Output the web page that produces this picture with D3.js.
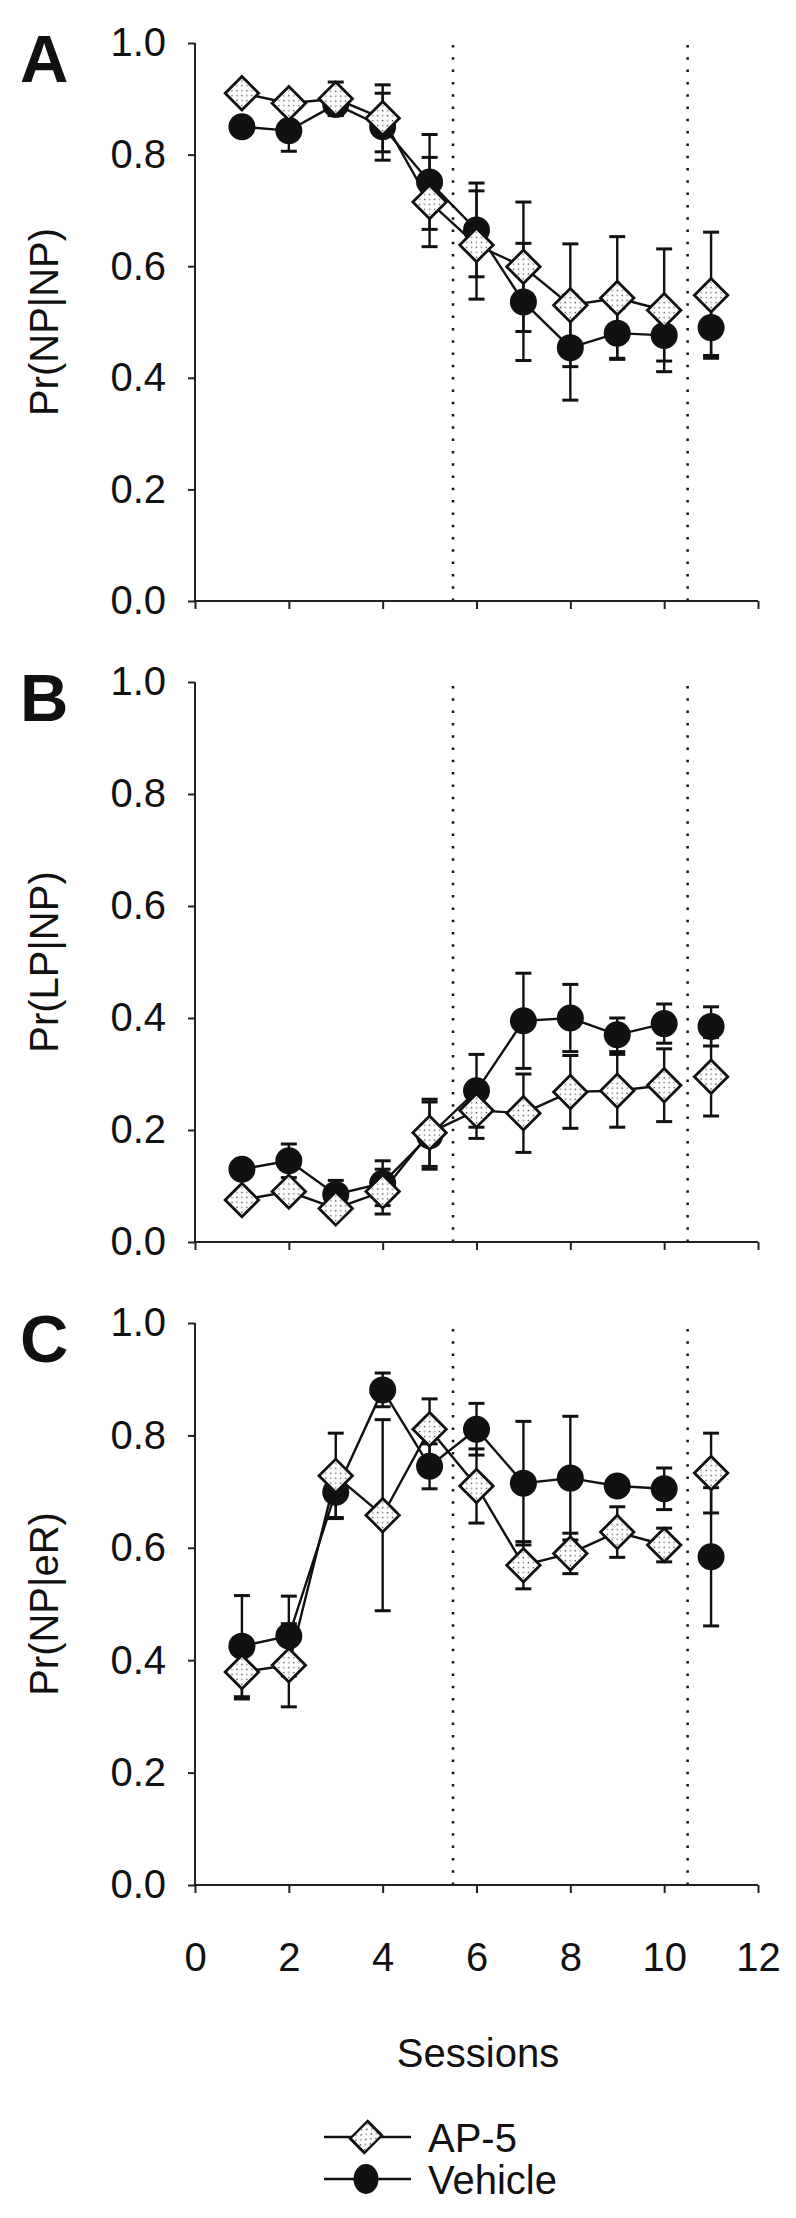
<!DOCTYPE html>
<html><head><meta charset="utf-8">
<script src="https://cdn.jsdelivr.net/npm/d3@7"></script>
<style>
body{margin:0;background:#fff}
text{font-family:"Liberation Sans",Arial,Helvetica,sans-serif;fill:#111}
</style>
</head><body>
<svg id="chart" width="796" height="2218"></svg>
<script>
// ---------------- data ----------------
const sessions = [1,2,3,4,5,6,7,8,9,10,11];
const xTicks = [0,2,4,6,8,10,12];
const yTicks = [0,0.2,0.4,0.6,0.8,1.0];
const phaseBreaks = [5.5, 10.5];
const seriesNames = ["AP-5","Vehicle"];
const panelLetters = ["A","B","C"];
const yLabels = ["Pr(NP|NP)","Pr(LP|NP)","Pr(NP|eR)"];
const xLabel = "Sessions";

// Panel A  Pr(NP|NP)
const apA     = [0.910,0.892,0.900,0.865,0.715,0.638,0.599,0.530,0.543,0.521,0.548];
const apAErr  = [0.010,0.010,0.030,0.060,0.080,0.097,0.116,0.110,0.110,0.110,0.113];
const vehA    = [0.850,0.843,0.890,0.850,0.751,0.665,0.536,0.454,0.480,0.476,0.490];
const vehAErr = [0.010,0.037,0.020,0.060,0.085,0.084,0.105,0.094,0.045,0.046,0.050];
// Panel B  Pr(LP|NP)
const apB     = [0.075,0.090,0.060,0.090,0.195,0.235,0.230,0.268,0.270,0.280,0.295];
const apBErr  = [0.010,0.010,0.010,0.040,0.060,0.050,0.070,0.065,0.065,0.065,0.070];
const vehB    = [0.130,0.145,0.085,0.105,0.190,0.270,0.395,0.400,0.370,0.390,0.385];
const vehBErr = [0.010,0.030,0.025,0.040,0.060,0.065,0.085,0.060,0.030,0.035,0.035];
// Panel C  Pr(NP|eR)
const apC     = [0.379,0.391,0.728,0.658,0.811,0.710,0.569,0.590,0.628,0.605,0.733];
const apCErr  = [0.048,0.074,0.076,0.170,0.054,0.066,0.042,0.036,0.045,0.030,0.071];
const vehC    = [0.425,0.443,0.699,0.881,0.745,0.811,0.715,0.724,0.710,0.705,0.584];
const vehCErr = [0.090,0.071,0.045,0.030,0.040,0.046,0.110,0.110,0.015,0.037,0.123];

// ---------------- layout ----------------
const svg = d3.select("#chart");
const FS = 40;
const panels = [
  {letter:panelLetters[0], ylab:yLabels[0], y0:601,  y1:43,   ap:apA, apE:apAErr, veh:vehA, vehE:vehAErr, labels:false},
  {letter:panelLetters[1], ylab:yLabels[1], y0:1242, y1:682,  ap:apB, apE:apBErr, veh:vehB, vehE:vehBErr, labels:false},
  {letter:panelLetters[2], ylab:yLabels[2], y0:1885, y1:1323, ap:apC, apE:apCErr, veh:vehC, vehE:vehCErr, labels:true}
];
const x = d3.scaleLinear().domain([0,12]).range([195,758]);

// stipple pattern for diamonds
const defs = svg.append("defs");
const pat = defs.append("pattern").attr("id","stip").attr("patternUnits","userSpaceOnUse")
  .attr("width",7).attr("height",7);
pat.append("rect").attr("width",7).attr("height",7).attr("fill","#fff");
pat.append("rect").attr("x",1).attr("y",1).attr("width",1.3).attr("height",1.3).attr("fill","#333");
pat.append("rect").attr("x",4.5).attr("y",4.5).attr("width",1.3).attr("height",1.3).attr("fill","#666");

const diamondPath = d3.symbol().type(d3.symbolSquare).size(560)();
const CAP = 8;

function drawSeries(g, y, vals, errs){
  const data = sessions.map((s,i)=>({s, v:vals[i], e:errs[i]}));
  const eb = g.append("g").attr("stroke","#111").attr("stroke-width",2.4);
  data.forEach(d=>{
    eb.append("line").attr("x1",x(d.s)).attr("x2",x(d.s)).attr("y1",y(d.v-d.e)).attr("y2",y(d.v+d.e));
    [d.v-d.e, d.v+d.e].forEach(v=>{
      eb.append("line").attr("x1",x(d.s)-CAP).attr("x2",x(d.s)+CAP).attr("y1",y(v)).attr("y2",y(v)).attr("stroke-width",3);
    });
  });
  const line = d3.line().defined(d=>d.s<=10).x(d=>x(d.s)).y(d=>y(d.v));
  g.append("path").datum(data).attr("d",line).attr("fill","none").attr("stroke","#111").attr("stroke-width",2.4);
  return data;
}
function drawMarkers(g, y, data, kind){
  if(kind==="veh"){
    g.selectAll(null).data(data).join("circle")
      .attr("cx",d=>x(d.s)).attr("cy",d=>y(d.v)).attr("r",13.5).attr("fill","#111");
  } else {
    g.selectAll(null).data(data).join("path")
      .attr("d",diamondPath)
      .attr("transform",d=>`translate(${x(d.s)},${y(d.v)}) rotate(45)`)
      .attr("fill","url(#stip)").attr("stroke","#111").attr("stroke-width",2.8);
  }
}

panels.forEach(p=>{
  const y = d3.scaleLinear().domain([0,1]).range([p.y0,p.y1]);
  const g = svg.append("g");

  phaseBreaks.forEach(b=>{
    g.append("line").attr("x1",x(b)).attr("x2",x(b)).attr("y1",y(0)).attr("y2",y(1))
      .attr("stroke","#111").attr("stroke-width",2.5).attr("stroke-dasharray","2.5,9.8");
  });

  const ya = g.append("g").attr("transform",`translate(${x(0)},0)`)
    .call(d3.axisLeft(y).tickValues(yTicks).tickFormat(d3.format(".1f")).tickSize(7).tickPadding(22));
  const xa = g.append("g").attr("transform",`translate(0,${y(0)})`)
    .call(d3.axisBottom(x).tickValues(xTicks).tickFormat(p.labels? d3.format("d") : "").tickSize(8).tickPadding(50));
  [ya,xa].forEach(a=>{
    a.select(".domain").attr("stroke","#222").attr("stroke-width",2);
    a.selectAll(".tick line").attr("stroke","#222").attr("stroke-width",2);
    a.selectAll(".tick text").attr("font-size",FS).attr("fill","#111")
      .attr("font-family","'Liberation Sans',Arial,sans-serif");
  });
  xa.select(".domain").attr("d",`M${x(0)},0H${x(12)}`);
  ya.select(".domain").attr("d",`M0,${y(0)}V${y(1)}`);

  const dv = drawSeries(g, y, p.veh, p.vehE);
  const da = drawSeries(g, y, p.ap, p.apE);
  drawMarkers(g, y, dv, "veh");
  drawMarkers(g, y, da, "ap");

  g.append("text").attr("x",20).attr("y",y(1)+39).attr("font-size",67).attr("font-weight","bold").text(p.letter);
  g.append("text").attr("transform",`translate(58,${(y(0)+y(1))/2}) rotate(-90)`)
    .attr("text-anchor","middle").attr("font-size",FS).text(p.ylab);
});

svg.append("text").attr("x",478).attr("y",2067).attr("text-anchor","middle").attr("font-size",FS).text(xLabel);

const leg = svg.append("g");
seriesNames.forEach((name,i)=>{
  const ly = 2137 + i*42;
  leg.append("line").attr("x1",324).attr("x2",411).attr("y1",ly).attr("y2",ly).attr("stroke","#111").attr("stroke-width",2.4);
  if(i===0){
    leg.append("path").attr("d",d3.symbol().type(d3.symbolSquare).size(480)()).attr("transform",`translate(366,${ly}) rotate(45) scale(0.92,1.12)`)
      .attr("fill","url(#stip)").attr("stroke","#111").attr("stroke-width",2.6);
  } else {
    leg.append("ellipse").attr("cx",366).attr("cy",ly).attr("rx",12.5).attr("ry",15).attr("fill","#111");
  }
  leg.append("text").attr("x",428).attr("y",ly+15).attr("font-size",FS).text(name);
});
</script>
</body></html>
